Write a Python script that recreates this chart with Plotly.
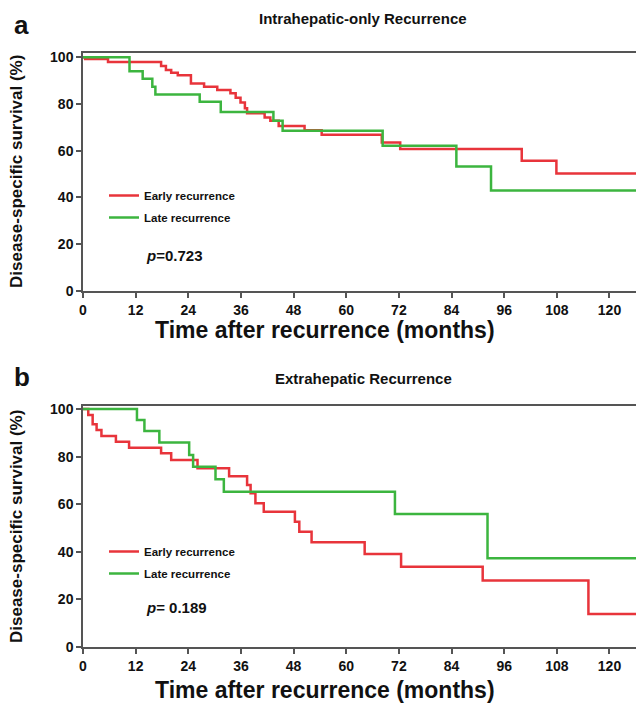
import plotly.graph_objects as go

# ---------------- data ----------------
# Panel a: Intrahepatic-only recurrence
a_early_t = [0, 0.5, 5.7, 17.8, 18.9, 20.1, 21.6, 24.6, 27.6, 30.6, 33.6, 34.8, 35.9, 36.9, 37.4,
             41.4, 42.7, 44.6, 50.5, 54.4, 68.1, 72.3, 100.0, 107.9, 126.5]
a_early_s = [100, 99.2, 98.0, 96.2, 94.5, 93.3, 92.3, 88.8, 87.4, 86.0, 84.6, 82.7, 80.6, 78.2, 76.0,
             74.2, 72.8, 70.6, 68.8, 66.8, 63.5, 60.7, 55.7, 50.3, 50.3]
a_late_t = [0, 10.6, 13.6, 15.8, 16.5, 26.6, 31.4, 43.4, 45.5, 68.3, 85.1, 93.0, 126.5]
a_late_s = [100, 94.0, 90.8, 87.4, 84.1, 81.0, 76.6, 72.8, 68.5, 62.1, 53.3, 43.0, 43.0]
a_p = "0.723"

# Panel b: Extrahepatic recurrence
b_early_t = [0, 1.2, 2.2, 3.1, 4.2, 7.5, 10.5, 17.8, 20.1, 26.1, 33.3, 37.4, 38.2, 39.3, 41.2,
             48.3, 49.3, 52.1, 64.2, 72.5, 91.1, 115.2, 126.5]
b_early_s = [100, 97.5, 93.6, 91.2, 88.7, 86.3, 83.7, 81.4, 78.6, 75.1, 71.8, 68.1, 64.6, 60.4, 56.9,
             52.6, 48.4, 44.0, 39.1, 33.7, 27.9, 13.9, 13.9]
b_late_t = [0, 12.3, 14.0, 17.4, 24.2, 25.1, 30.2, 32.1, 71.1, 92.2, 126.5]
b_late_s = [100, 95.4, 90.8, 86.0, 80.7, 75.8, 70.5, 65.3, 55.9, 37.3, 37.3]
b_p = "0.189"

x_ticks = [0, 12, 24, 36, 48, 60, 72, 84, 96, 108, 120]
y_ticks = [0, 20, 40, 60, 80, 100]
names = ["Early recurrence", "Late recurrence"]
RED = "#e8343b"
GREEN = "#3cb53f"

FONT = "Liberation Sans, Arial, sans-serif"
OFF = 8                      # the page body adds an 8px margin
W, H = 644 - OFF, 707 - OFF
# plot-area bounds, in reference-image pixels
RL, RR, RT, RB = 83, 638, 53, 647
L, R, T, B = RL - OFF, RR - OFF, RT - OFF, RB - OFF


def px_x(px):
    return (px - RL) / (RR - RL)


def px_y(py):
    return (RB - py) / (RB - RT)


fig = go.Figure()
for t, s, name, col, xa, ya, lg, grp in [
    (a_early_t, a_early_s, names[0], RED, "x", "y", "legend", "e"),
    (a_late_t, a_late_s, names[1], GREEN, "x", "y", "legend", "l"),
    (b_early_t, b_early_s, names[0], RED, "x2", "y2", "legend2", "e2"),
    (b_late_t, b_late_s, names[1], GREEN, "x2", "y2", "legend2", "l2"),
]:
    fig.add_trace(go.Scatter(x=t, y=s, mode="lines", name=name, legendgroup=grp,
                             line=dict(color=col, width=2.5, shape="hv"),
                             xaxis=xa, yaxis=ya, legend=lg))

axis_common = dict(showline=True, linecolor="#555555", linewidth=1.5, mirror=True,
                   ticks="outside", ticklen=5, tickcolor="#555555", tickwidth=1.5,
                   showgrid=False, zeroline=False,
                   tickfont=dict(family=FONT, size=14, color="#111", weight="bold"))

legend_common = dict(xref="paper", yref="paper", xanchor="left", yanchor="top",
                     bgcolor="rgba(0,0,0,0)", tracegroupgap=3, traceorder="grouped",
                     font=dict(family=FONT, size=11.5, color="#111", weight="bold"))

fig.update_layout(
    width=W, height=H,
    margin=dict(l=L, r=W - R, t=T, b=H - B, autoexpand=False),
    paper_bgcolor="white", plot_bgcolor="white",
    showlegend=True,
    xaxis=dict(domain=[0, 1], range=[0, 126.5], tickvals=x_ticks, anchor="y", **axis_common),
    yaxis=dict(domain=[px_y(291), 1], range=[0, 101.8], tickvals=y_ticks, anchor="x", **axis_common),
    xaxis2=dict(domain=[0, 1], range=[0, 126.5], tickvals=x_ticks, anchor="y2", **axis_common),
    yaxis2=dict(domain=[0, px_y(406)], range=[0, 101.3], tickvals=y_ticks, anchor="x2", **axis_common),
    legend=dict(x=px_x(104), y=px_y(181), **legend_common),
    legend2=dict(x=px_x(104), y=px_y(537), **legend_common),
)


def ann(x, y, text, size, angle=0, xa="left"):
    fig.add_annotation(xref="paper", yref="paper", x=x, y=y, text=text, showarrow=False,
                       textangle=angle, xanchor=xa, yanchor="middle",
                       font=dict(family=FONT, size=size, color="#111", weight="bold"))


ann(px_x(363), px_y(18), "Intrahepatic-only Recurrence", 15, xa="center")
ann(px_x(363), px_y(378), "Extrahepatic Recurrence", 15, xa="center")
ann(px_x(12), px_y(25), "a", 26, xa="left")
ann(px_x(12), px_y(377), "b", 26, xa="left")
ann(px_x(325), px_y(330), "Time after recurrence (months)", 23, xa="center")
ann(px_x(325), px_y(690), "Time after recurrence (months)", 23, xa="center")
ann(px_x(16), px_y(172), "Disease-specific survival (%)", 17, angle=-90, xa="center")
ann(px_x(16), px_y(527), "Disease-specific survival (%)", 17, angle=-90, xa="center")
ann(px_x(144), px_y(255), "<i>p</i>=" + a_p, 15)
ann(px_x(144), px_y(607), "<i>p</i>= " + b_p, 15)

fig.write_html("out.html")
